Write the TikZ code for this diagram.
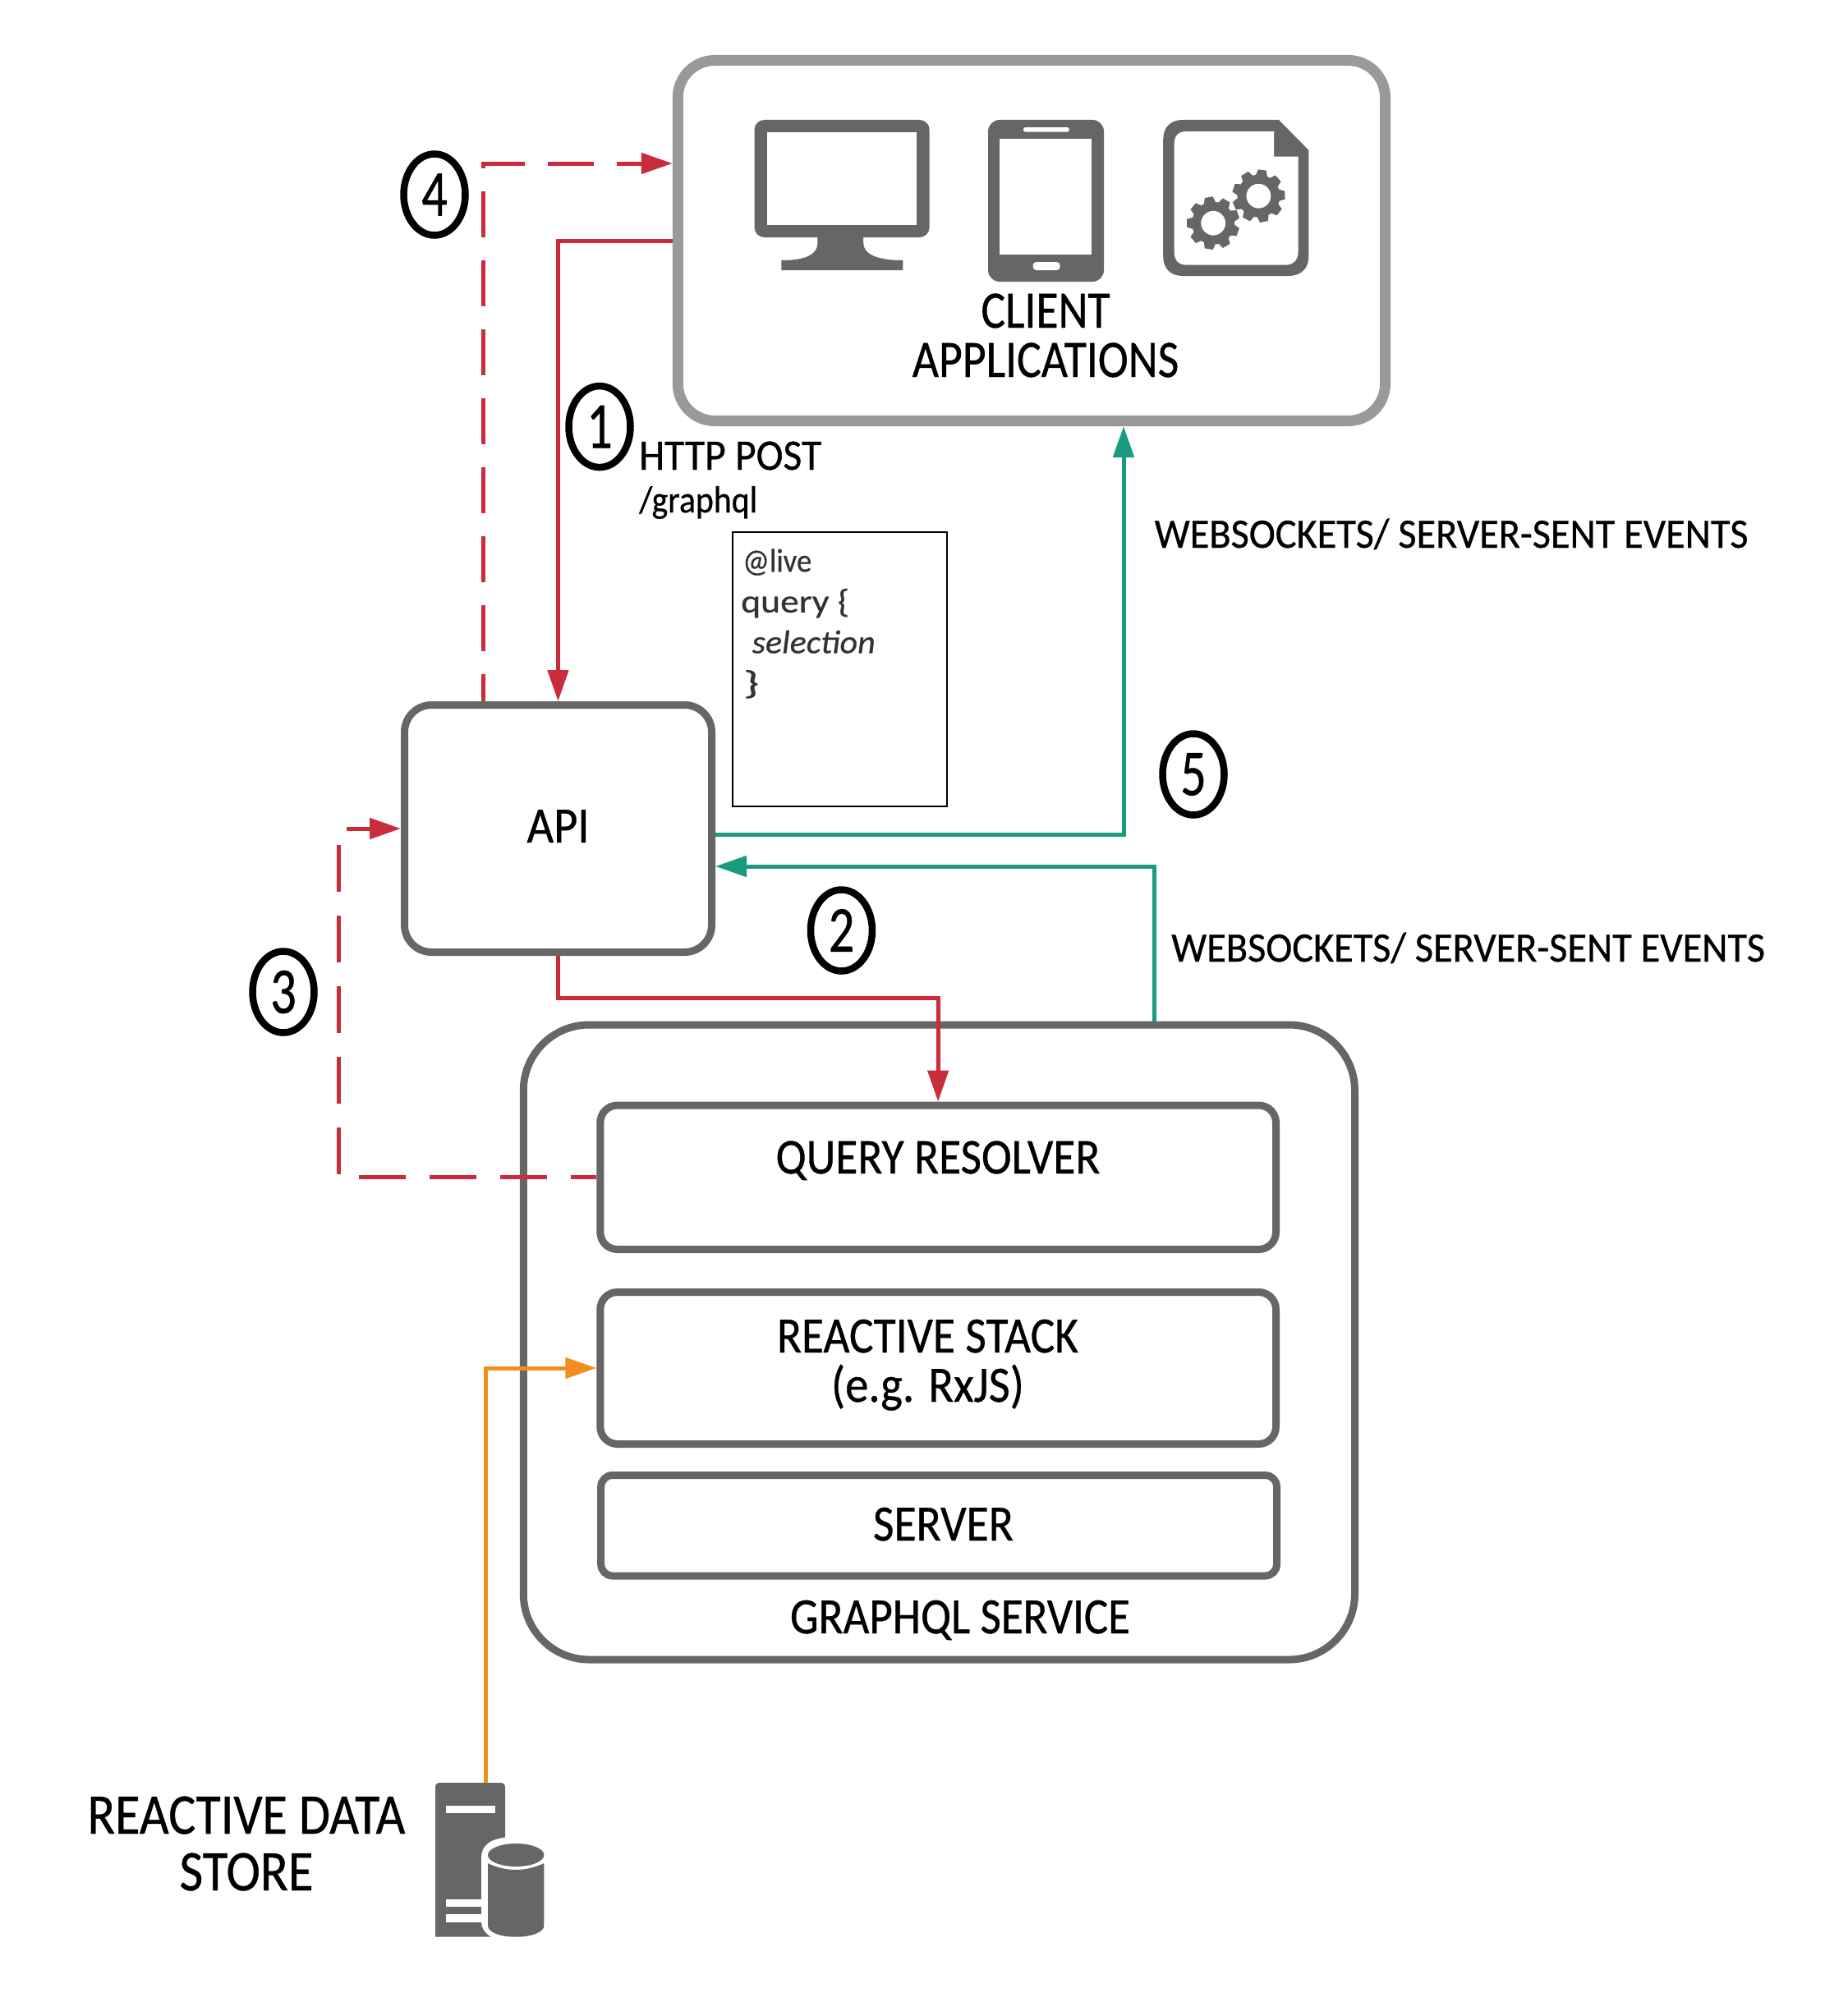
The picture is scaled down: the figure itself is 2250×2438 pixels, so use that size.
\documentclass[tikz,border=0pt]{standalone}
\usepackage{fontspec}
\usepackage{graphicx}
\setmainfont[FakeBold=0.6]{Carlito}
\usetikzlibrary{arrows.meta,shapes.geometric}
\definecolor{cred}{HTML}{C92C3B}
\definecolor{cteal}{HTML}{1B9A80}
\definecolor{corange}{HTML}{F28E1F}
\definecolor{cgrey}{HTML}{666666}
\definecolor{clight}{HTML}{999999}
\definecolor{ccode}{HTML}{333333}
\newcommand{\fitbox}[3]{\resizebox{#1pt}{\height}{\fontsize{#2}{#2}\selectfont #3}}
\newcommand{\digitlabel}[1]{\scalebox{.78}[1]{\fontsize{80}{80}\selectfont #1}}
\newcommand{\geartooth}[3]{%
  \begin{scope}[shift={(#1,#2)},rotate=#3]
    \fill[cgrey] (-7,-25) -- (-5,-32) -- (5,-32) -- (7,-25) -- cycle;
  \end{scope}}
\newcommand{\gearicon}[3]{%
  \foreach \ang in {0,40,...,320} {\geartooth{#1}{#2}{\ang+#3}}
  \fill[cgrey,even odd rule] (#1,#2) circle (26) (#1,#2) circle (15);}
\tikzset{
  panel/.style={draw=cgrey,line width=9pt,fill=white,inner sep=0pt,rectangle},
  lbl/.style={inner sep=0pt,anchor=base,text=black},
  lblw/.style={inner sep=0pt,anchor=base west,text=black},
  leading/.style={font=\fontsize{20}{#1}\selectfont},
  badge/.style={draw=black,line width=8.5pt,ellipse,minimum width=75pt,minimum height=99pt,inner sep=0pt,text=black},
  conn/.style={line width=5pt,-{Triangle[length=38pt,width=25pt]}},
  dashA/.style={dash pattern=on 57pt off 29pt,dash phase=26pt},
  dashB/.style={dash pattern=on 56pt off 28pt,dash phase=23pt},
}
\begin{document}
\begin{tikzpicture}[x=1pt,y=-1pt]
\useasboundingbox (0,0) rectangle (2250,2438);
\fill[white] (0,0) rectangle (2250,2438);

% boxes
\node[panel,draw=clight,line width=13pt,rounded corners=45pt,minimum width=861.2pt,minimum height=439pt] (client) at (1255.9,293) {};
\node[panel,rounded corners=33pt,minimum width=374pt,minimum height=301pt] (api) at (679.5,1009) {};
\node[draw=black,line width=2pt,fill=white,inner sep=0pt,minimum width=261pt,minimum height=334.5pt] (code) at (1022.5,814.75) {};
\node[panel,rounded corners=80pt,minimum width=1012.2pt,minimum height=773pt] (graphql) at (1143.4,1634.5) {};
\node[panel,rounded corners=21pt,minimum width=822.7pt,minimum height=175.5pt] (query) at (1142.15,1433.75) {};
\node[panel,rounded corners=21pt,minimum width=822.7pt,minimum height=185pt] (reactive) at (1142.15,1666) {};
\node[panel,rounded corners=14pt,minimum width=822.8pt,minimum height=122.5pt] (server) at (1143.1,1857.75) {};

% monitor icon
\fill[cgrey,rounded corners=12pt] (918.5,146) rectangle (1131.6,289);
\fill[cgrey] (995.4,280) -- (1051.2,280) -- (1051.2,296) .. controls (1051.2,310) and (1069,317) .. (1099.3,317) -- (1099.3,329) -- (951.4,329) -- (951.4,317) .. controls (981,317) and (995.4,310) .. (995.4,296) -- cycle;
\fill[white] (933.8,161) rectangle (1116.3,274);

% phone icon
\fill[cgrey,rounded corners=14pt] (1203,146) rectangle (1344,343);
\fill[white] (1217.3,169) rectangle (1329.3,310);
\fill[white,rounded corners=2.5pt] (1246,155) rectangle (1301.8,160.7);
\fill[white,rounded corners=4pt] (1257.7,319) rectangle (1290.6,329);

% document icon
\fill[cgrey] (1416.2,170) .. controls (1416.2,155) and (1425,146) .. (1440,146) -- (1557,146) -- (1593.4,183) -- (1593.4,312) .. controls (1593.4,327) and (1584,336) .. (1569,336) -- (1440,336) .. controls (1425,336) and (1416.2,327) .. (1416.2,312) -- cycle;
\fill[white] (1429.7,175) .. controls (1429.7,165) and (1435,160) .. (1445,160) -- (1551.2,160) -- (1551.2,190.7) -- (1580.5,190.7) -- (1580.5,307) .. controls (1580.5,317) and (1574,322.7) .. (1565,322.7) -- (1445,322.7) .. controls (1435,322.7) and (1429.7,317) .. (1429.7,307) -- cycle;
\gearicon{1477.2}{271.7}{10}
\gearicon{1532.4}{238.7}{-8}

% data store icon
\fill[cgrey] (530,2358.7) -- (530,2177) .. controls (530,2173) and (532,2171) .. (536,2171) -- (609,2171) .. controls (613,2171) and (615,2173) .. (615,2177) -- (615,2358.7) -- cycle;
\fill[white] (543,2199) rectangle (603,2208);
\fill[white] (543,2313) rectangle (590,2322);
\fill[white] (543,2331) rectangle (590,2340.7);
\fill[white] (586,2262) .. controls (586,2247) and (598,2238) .. (622,2237) -- (670,2237) -- (670,2365) -- (600,2365) -- (598,2358.7) .. controls (590,2354) and (586,2347) .. (586,2340) -- cycle;
\fill[cgrey] (628.2,2259) ellipse (34.2 and 14);
\fill[cgrey] (594,2269) .. controls (604,2274) and (616,2277) .. (628.2,2277) .. controls (640,2277) and (652,2274) .. (662.4,2269) -- (662.4,2345) .. controls (662.4,2353) and (647,2358.7) .. (628.2,2358.7) .. controls (609,2358.7) and (594,2353) .. (594,2345) -- cycle;
\coordinate (storetop) at (591,2171);

% connector way-points
\coordinate (d4start) at (588.5,199);
\coordinate (d3corner) at (412.5,1009);
\coordinate (turn2) at (1142.15,1215);
\coordinate (out5) at (1368,1016);
\coordinate (in2) at (1405.5,1055);

% connectors
\draw[conn,cred] (client.west) -| (api.north);
\draw[conn,cred,dashB] (api.north -| d4start) -- (d4start) -- (client.west |- d4start);
\draw[conn,cred] (api.south) |- (turn2) -- (query.north);
\draw[conn,cred,dashA] (query.west) -| (d3corner) -- (api.west);
\draw[conn,cteal] (api.east |- out5) -- (out5) -- (client.south -| out5);
\draw[conn,cteal] (graphql.north -| in2) -- (in2) -- (api.east |- in2);
\draw[conn,corange] (storetop) |- (reactive.west);

% labels
\node[lbl,leading=60pt,align=center] (clientlabel) at (1273,459) {\fitbox{157}{64}{CLIENT}\\\fitbox{324.5}{64}{APPLICATIONS}};
\node[lblw,leading=52pt,align=left] (httplabel) at (778,624) {\fitbox{222}{53}{HTTP POST}\\\fitbox{144}{46}{/graphql}};
\node[lblw,text=ccode,leading=49.6pt,align=left] (codelabel) at (902,845) {\hspace*{2pt}\fitbox{84}{40}{@live}\\\fitbox{132}{40}{query \{}\\\hspace*{13.5pt}\fitbox{150}{40}{\itshape selection}\\\hspace*{3pt}\fitbox{19}{40}{\}}};
\node[lbl] (apilabel) at (679.5,1026) {\fitbox{76}{62}{API}};
\node[lblw] (ws1) at (1405.5,667) {\fitbox{723}{51}{WEBSOCKETS/ SERVER-SENT EVENTS}};
\node[lblw] (ws2) at (1426,1171) {\fitbox{723}{51}{WEBSOCKETS/ SERVER-SENT EVENTS}};
\node[lbl] (querylabel) at (1142,1429) {\fitbox{395}{61}{QUERY RESOLVER}};
\node[lbl,leading=60pt,align=center] (reactivelabel) at (1129.5,1707) {\fitbox{367}{62}{REACTIVE STACK}\\\fitbox{235}{62}{(e.g. RxJS)}};
\node[lbl] (serverlabel) at (1148.5,1876) {\fitbox{171}{62}{SERVER}};
\node[lbl] (graphqllabel) at (1169,1989) {\fitbox{414}{62}{GRAPHQL SERVICE}};
\node[lbl,leading=69pt,align=center] (storelabel) at (300,2302) {\fitbox{387}{70}{REACTIVE DATA}\\\fitbox{163}{70}{STORE}};

% step badges
\node[badge] (b1) at (730,519.6) {\digitlabel{1}};
\node[badge] (b2) at (1024.5,1133) {\digitlabel{2}};
\node[badge] (b3) at (345,1208) {\digitlabel{3}};
\node[badge] (b4) at (529,237) {\digitlabel{4}};
\node[badge] (b5) at (1453,943) {\digitlabel{5}};
\end{tikzpicture}
\end{document}
